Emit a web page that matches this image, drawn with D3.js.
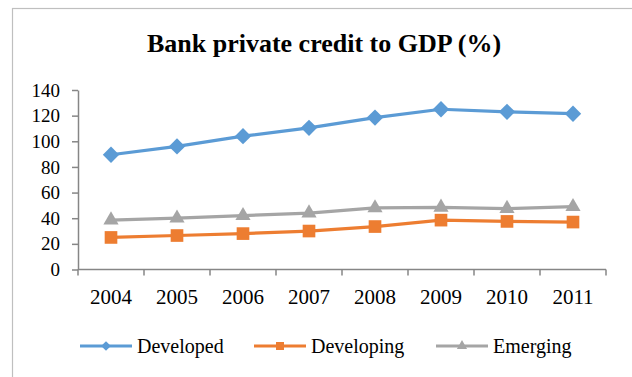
<!DOCTYPE html>
<html lang="en">
<head>
<meta charset="UTF-8">
<title>Bank private credit to GDP (%)</title>
<script src="https://d3js.org/d3.v7.min.js"></script>
<style>
    body { margin: 0; background: #fff; }
    svg { display: block; font-family: "Liberation Serif", "Times New Roman", serif; }
    .axis path, .axis line { stroke: #868686; stroke-width: 1.5px; }
    .axis text { fill: #000; }
</style>
</head>
<body>
<svg width="632" height="377"></svg>
<script>
    // chart data
    const years = ["2004", "2005", "2006", "2007", "2008", "2009", "2010", "2011"];
    const developed = [89.5, 96, 104, 110.5, 118.5, 125, 123, 121.5];
    const developing = [25, 26.5, 28, 30, 33.5, 38.5, 37.5, 37];
    const emerging = [38.5, 40, 42, 44, 48, 48.5, 47.5, 49];
    const yTicks = [0, 20, 40, 60, 80, 100, 120, 140];

    const serif = "'Liberation Serif', 'Times New Roman', serif";

    const series = [
        { name: "Developed", values: developed, color: "#5B9BD5", symbol: d3.symbolDiamond2, size: 170, legendSize: 60 },
        { name: "Developing", values: developing, color: "#ED7D31", symbol: d3.symbolSquare, size: 160, legendSize: 64 },
        { name: "Emerging", values: emerging, color: "#A5A5A5", symbol: d3.symbolTriangle, size: 100, legendSize: 45 }
    ];

    const svg = d3.select("svg");

    // outer border (right/bottom cut off in the original)
    svg.append("rect")
        .attr("x", 12.5).attr("y", 8.5)
        .attr("width", 700).attr("height", 500)
        .attr("fill", "none").attr("stroke", "#BFBFBF").attr("stroke-width", 1.2);

    svg.append("text")
        .attr("x", 324).attr("y", 52)
        .attr("text-anchor", "middle")
        .style("font-family", serif)
        .style("font-size", "26px").style("font-weight", "bold")
        .text("Bank private credit to GDP (%)");

    const x = d3.scaleBand().domain(years).range([78, 606]);
    const y = d3.scaleLinear().domain([0, 140]).range([269.5, 90]);
    const cx = d => x(d) + x.bandwidth() / 2;

    // y axis
    const yAxis = svg.append("g")
        .attr("class", "axis")
        .attr("transform", "translate(78,0)")
        .call(d3.axisLeft(y).tickValues(yTicks).tickSize(6).tickPadding(12).tickSizeOuter(0))
        .attr("font-family", serif);
    yAxis.selectAll("text")
        .style("font-family", serif)
        .style("font-size", "19px");

    // x axis: ticks on category boundaries
    const xAxis = svg.append("g").attr("class", "axis");
    xAxis.append("line")
        .attr("x1", x.range()[0]).attr("x2", x.range()[1])
        .attr("y1", y(0)).attr("y2", y(0));
    xAxis.selectAll(".bt")
        .data(years.map(x).concat([x.range()[1]]))
        .enter().append("line")
        .attr("x1", d => d).attr("x2", d => d)
        .attr("y1", y(0)).attr("y2", y(0) + 6);
    xAxis.selectAll(".lbl")
        .data(years)
        .enter().append("text")
        .attr("x", cx).attr("y", 304)
        .attr("text-anchor", "middle")
        .style("font-family", serif)
        .style("font-size", "21px")
        .text(d => d);

    const line = d3.line().x((d, i) => cx(years[i])).y(d => y(d));

    series.forEach(s => {
        svg.append("path")
            .datum(s.values)
            .attr("d", line)
            .attr("fill", "none")
            .attr("stroke", s.color)
            .attr("stroke-width", 3.2)
            .attr("stroke-linejoin", "round");
        svg.selectAll(null)
            .data(s.values)
            .enter().append("path")
            .attr("d", d3.symbol().type(s.symbol).size(s.size))
            .attr("transform", (d, i) => `translate(${cx(years[i])},${y(d)})`)
            .attr("fill", s.color);
    });

    // legend
    const legendX = [80, 254, 436];
    const legend = svg.selectAll(".legend")
        .data(series)
        .enter().append("g")
        .attr("transform", (d, i) => `translate(${legendX[i]},346)`);
    legend.append("line")
        .attr("x1", 0).attr("x2", 52)
        .attr("stroke", d => d.color).attr("stroke-width", 3.2);
    legend.append("path")
        .attr("d", d => d3.symbol().type(d.symbol).size(d.legendSize)())
        .attr("transform", "translate(26,0)")
        .attr("fill", d => d.color);
    legend.append("text")
        .attr("x", 57).attr("y", 7)
        .style("font-family", serif)
        .style("font-size", "20px")
        .text(d => d.name);
</script>
</body>
</html>
